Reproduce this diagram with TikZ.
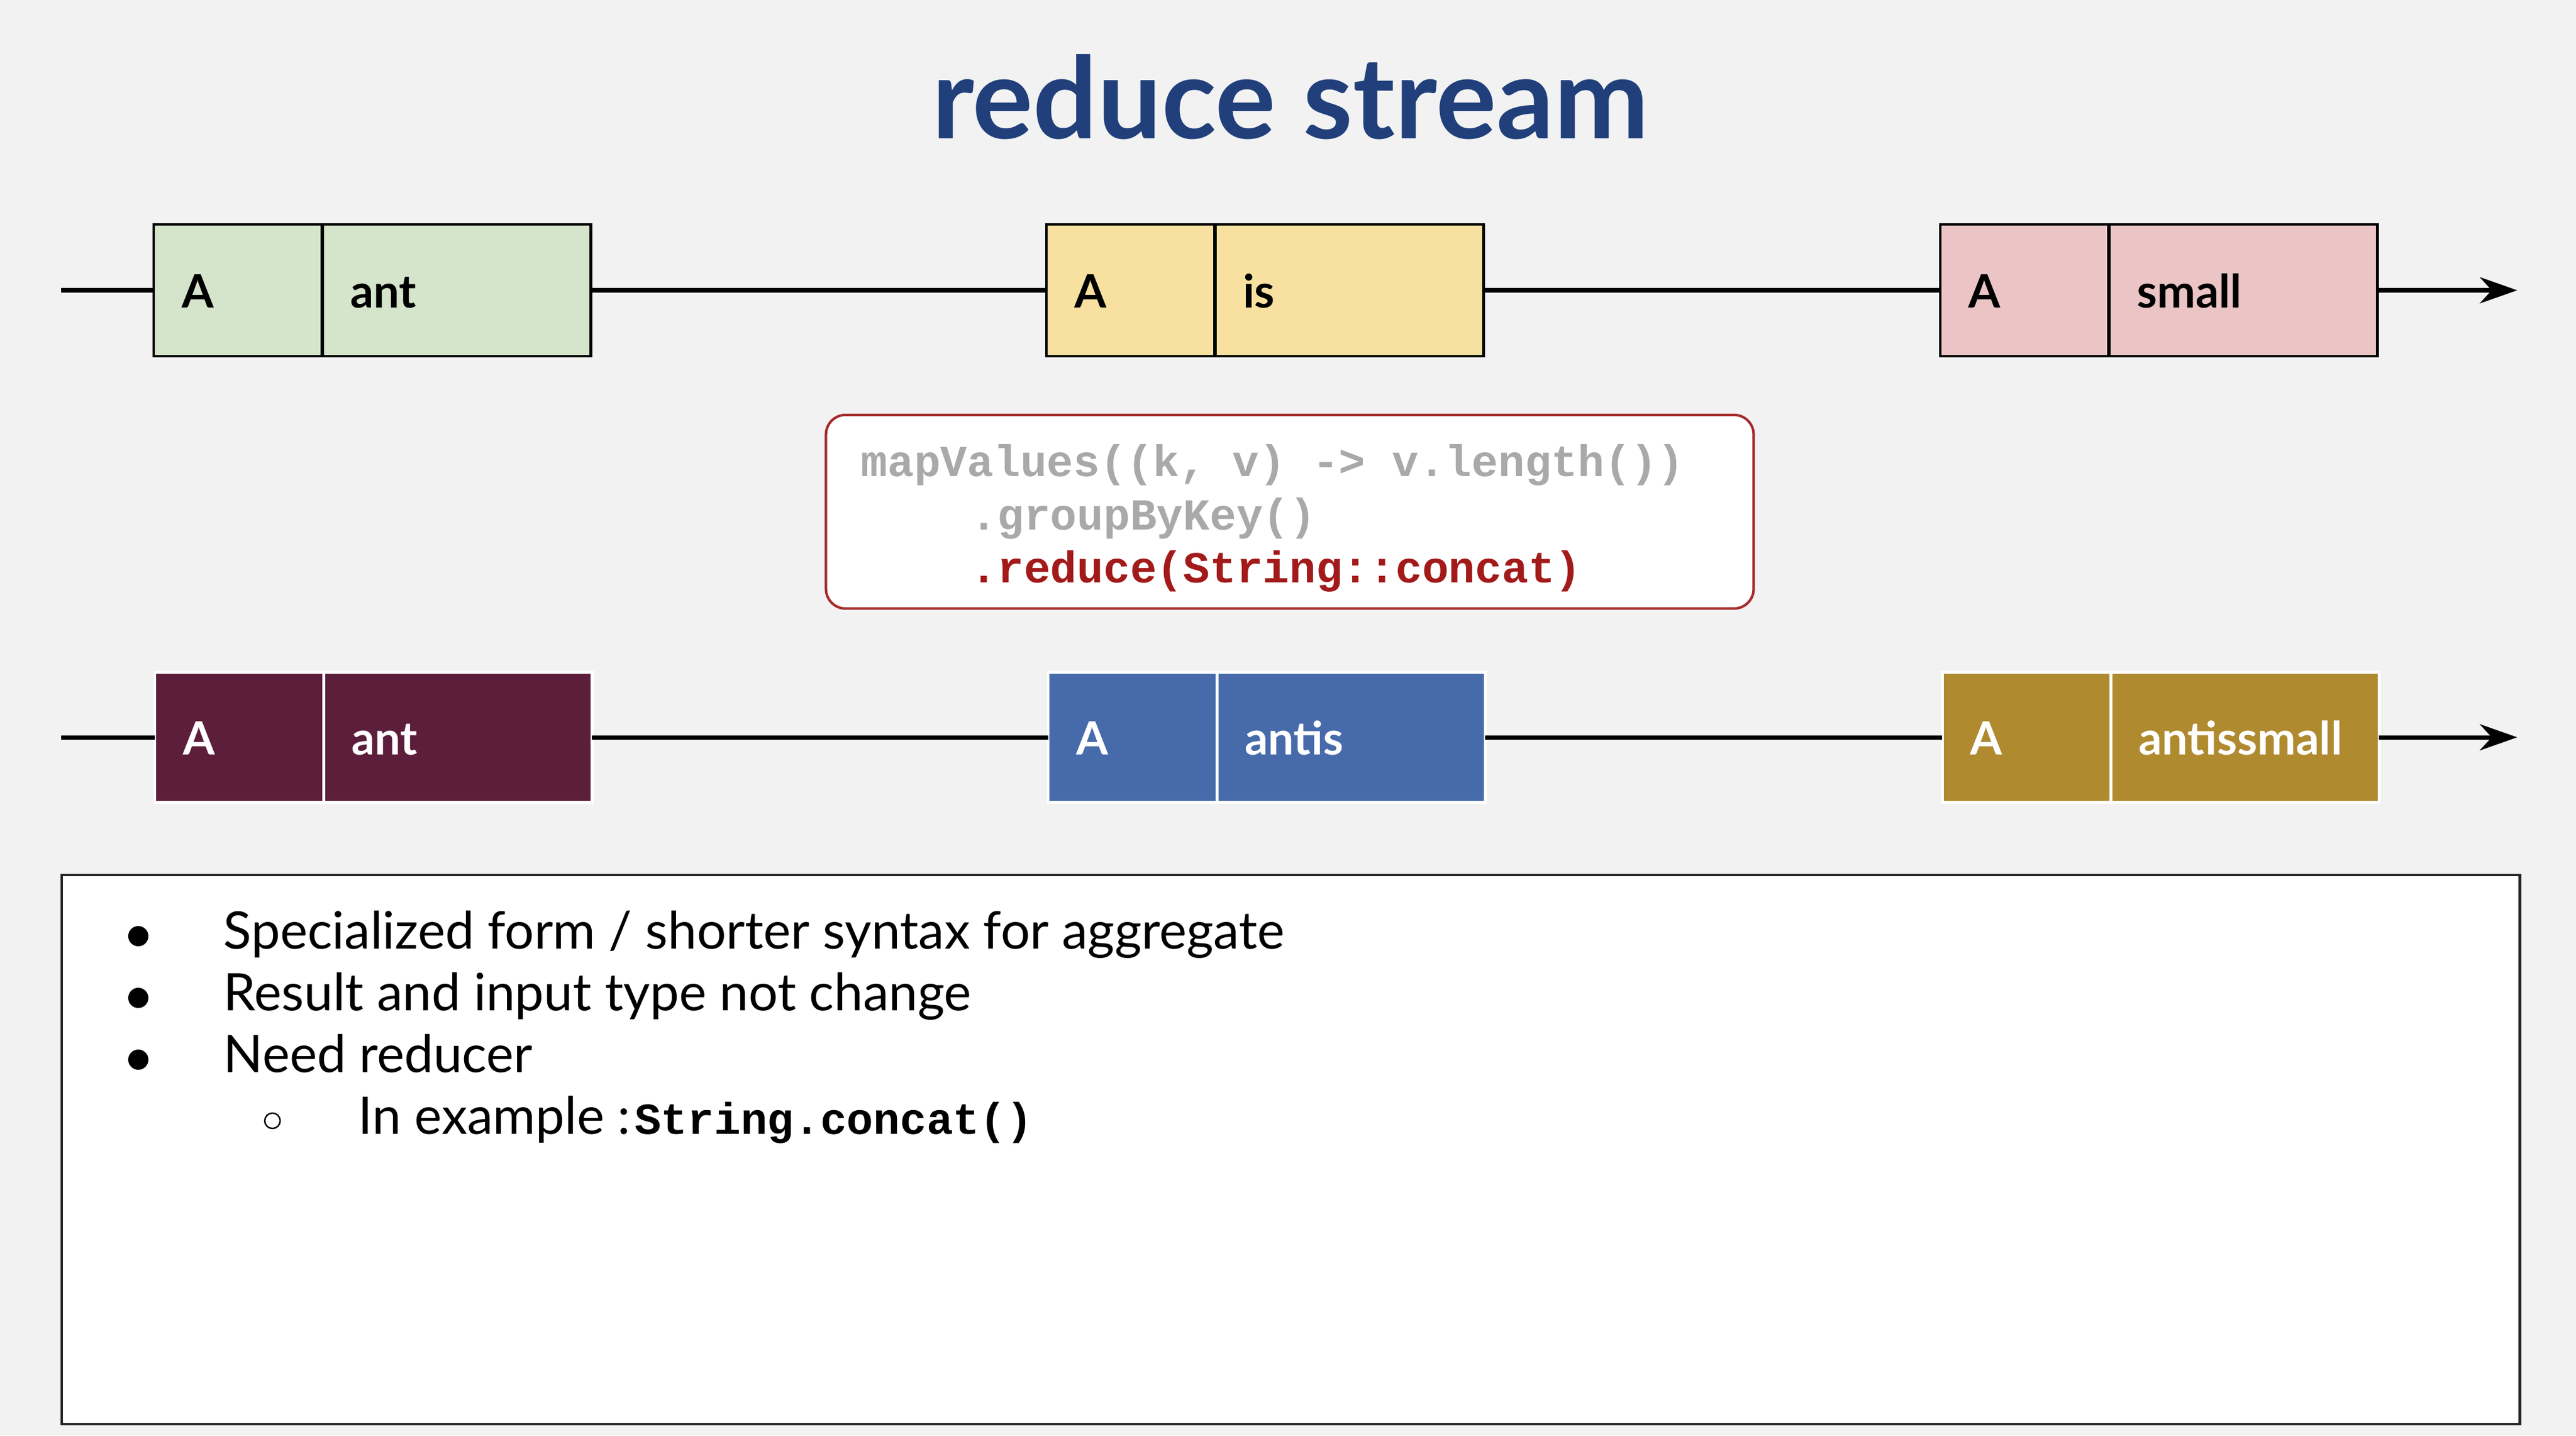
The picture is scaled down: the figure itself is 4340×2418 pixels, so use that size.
\documentclass[tikz,border=0pt]{standalone}
\usepackage{fontspec}
\setmainfont{Lato}
\newfontfamily\codefont{Liberation Mono}
\usetikzlibrary{arrows.meta}
\definecolor{bg}{HTML}{F2F2F2}
\definecolor{titleblue}{HTML}{21407B}
\definecolor{cgreen}{HTML}{D5E5CC}
\definecolor{cyellow}{HTML}{F8E1A0}
\definecolor{cpink}{HTML}{EBC5C5}
\definecolor{cmaroon}{HTML}{5C1E3A}
\definecolor{cblue}{HTML}{476BAA}
\definecolor{cgold}{HTML}{AF8A2F}
\definecolor{codegray}{HTML}{A9A9A9}
\definecolor{codered}{HTML}{A31A1A}
\definecolor{boxred}{HTML}{A52A2A}
\begin{document}
\begin{tikzpicture}[x=0.01cm,y=-0.01cm,
  cell/.style={rectangle, anchor=west, minimum height=#1, inner xsep=0.47cm, inner ysep=0pt,
    outer sep=0pt, align=left, text height=0.58cm, text depth=0pt,
    font=\fontsize{22pt}{26pt}\selectfont\bfseries},
  topcell/.style={cell=2.22cm, draw=black, line width=1.2pt},
  botcell/.style={cell=2.18cm, draw=white, line width=1.4pt, text=white},
  keyw/.style={text width=1.90cm},
  valw/.style={text width=3.58cm},
  stream/.style={line width=2pt, black},
  streamend/.style={stream, -{Stealth[length=0.63cm, width=0.44cm, inset=0.2cm]}},
  codeline/.style={anchor=base west, inner sep=0pt, font=\fontsize{21.2pt}{25pt}\selectfont\codefont\bfseries},
  bullettext/.style={anchor=base west, inner sep=0pt, font=\fontsize{24.8pt}{29pt}\selectfont},
  dot/.style={circle, fill=black, minimum size=0.34cm, inner sep=0pt},
]
\useasboundingbox (0,0) rectangle (4340,2418);
\fill[bg] (0,0) rectangle (4340,2418);

% title
\node[anchor=base, inner sep=0pt, text=titleblue, font=\fontsize{54.3pt}{60pt}\selectfont\bfseries] (title) at (2174,233) {reduce stream};

% top stream
\coordinate (ts) at (103,489);
\coordinate (te) at (4241,489);
\node[topcell, keyw, fill=cgreen] (tk1) at (259,489) {A};
\node[topcell, valw, fill=cgreen] (tv1) at (tk1.east) {ant};
\node[topcell, keyw, fill=cyellow] (tk2) at (1763,489) {A};
\node[topcell, valw, fill=cyellow] (tv2) at (tk2.east) {is};
\node[topcell, keyw, fill=cpink] (tk3) at (3269,489) {A};
\node[topcell, valw, fill=cpink] (tv3) at (tk3.east) {small};
\foreach \i in {1,2,3} \draw[line width=1.8pt] (tk\i.north east) -- (tk\i.south east);
\draw[stream] (ts) -- (tk1.west);
\draw[stream] (tv1.east) -- (tk2.west);
\draw[stream] (tv2.east) -- (tk3.west);
\draw[streamend] (tv3.east) -- (te);

% code box
\node[draw=boxred, line width=1.2pt, fill=white, rounded corners=0.33cm, minimum width=15.62cm, minimum height=3.26cm, inner sep=0pt] (code) at (2173,862) {};
\node[codeline, text=codegray] (c1) at (1450,802) {mapValues((k, v) -> v.length())};
\node[codeline, text=codegray] (c2) at (1635,892) {.groupByKey()};
\node[codeline, text=codered] (c3) at (1635,981) {.reduce(String::concat)};

% bottom stream
\coordinate (bs) at (103,1242);
\coordinate (be) at (4241,1242);
\node[botcell, keyw, fill=cmaroon] (bk1) at (261,1242) {A};
\node[botcell, valw, fill=cmaroon] (bv1) at (bk1.east) {ant};
\node[botcell, keyw, fill=cblue] (bk2) at (1766,1242) {A};
\node[botcell, valw, fill=cblue] (bv2) at (bk2.east) {antis};
\node[botcell, keyw, fill=cgold] (bk3) at (3272,1242) {A};
\node[botcell, valw, fill=cgold] (bv3) at (bk3.east) {antissmall};
\draw[stream] (bs) -- (bk1.west);
\draw[stream] (bv1.east) -- (bk2.west);
\draw[stream] (bv2.east) -- (bk3.west);
\draw[streamend] (bv3.east) -- (be);

% notes box
\node[draw=black!85, line width=1.2pt, fill=white, anchor=north west, minimum width=41.39cm, minimum height=9.24cm, inner sep=0pt] (notes) at (102,1472) {};
\node[dot] (b1) at (233,1577) {};
\node[dot] (b2) at (233,1681) {};
\node[dot] (b3) at (233,1785) {};
\node[circle, draw=black, line width=0.7pt, minimum size=0.26cm, inner sep=0pt] (b4) at (459,1888) {};
\node[bullettext] (t1) at (376,1598) {Specialized form / shorter syntax for aggregate};
\node[bullettext] (t2) at (376,1702) {Result and input type not change};
\node[bullettext] (t3) at (376,1806) {Need reducer};
\node[bullettext] (t4) at (603,1910) {In example :\hspace{0.08em}{\fontsize{21.2pt}{25pt}\selectfont\codefont\bfseries String.concat()}};
\end{tikzpicture}
\end{document}
